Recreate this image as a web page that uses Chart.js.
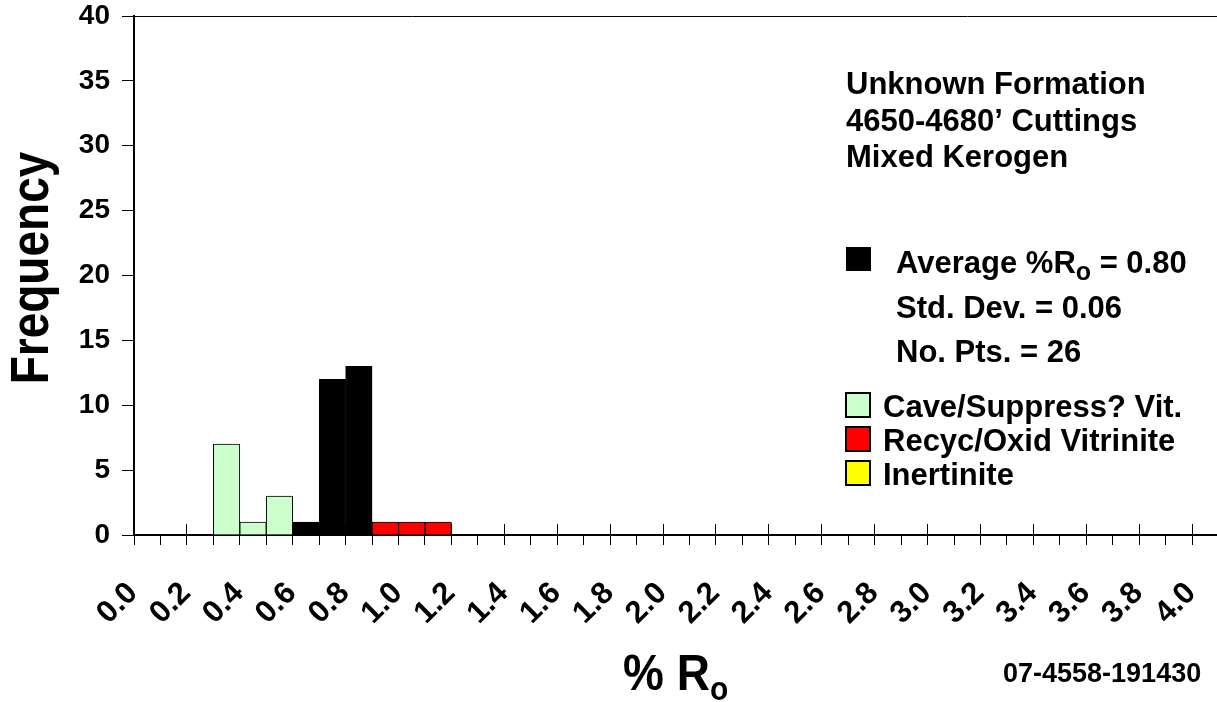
<!DOCTYPE html>
<html>
<head>
<meta charset="utf-8">
<script src="https://cdn.jsdelivr.net/npm/chart.js@4.4.1/dist/chart.umd.min.js"></script>
<style>
html,body{margin:0;padding:0;overflow:hidden;background:#fff;width:1217px;height:702px}
canvas{display:block}
</style>
</head>
<body>
<canvas id="c" width="1245" height="702"></canvas>
<script>
// ---- data (bin centres, bin width 0.1 %Ro) ----
const seriesNames = ['Vitrinite', 'Cave/Suppress? Vit.', 'Recyc/Oxid Vitrinite', 'Inertinite'];
const vitBins   = [0.65, 0.75, 0.85];
const vitFreq   = [1, 12, 13];
const caveBins  = [0.35, 0.45, 0.55];
const caveFreq  = [7, 1, 3];
const recycBins = [0.95, 1.05, 1.15];
const recycFreq = [1, 1, 1];
const inertBins = [];
const inertFreq = [];
const xTickLabels = ['0.0','0.2','0.4','0.6','0.8','1.0','1.2','1.4','1.6','1.8','2.0',
                     '2.2','2.4','2.6','2.8','3.0','3.2','3.4','3.6','3.8','4.0'];
const yTitle = 'Frequency';
const titleLines = ['Unknown Formation', '4650-4680\u2019 Cuttings', 'Mixed Kerogen'];
const avgRo = '0.80';
const stdDev = '0.06';
const nPts = '26';
const sampleId = '07-4558-191430';

const FONT = '"Liberation Sans", Arial, Helvetica, sans-serif';
Chart.defaults.font.family = FONT;
Chart.defaults.color = '#000';

function pts(xs, ys) { return xs.map((x, i) => ({ x: x, y: ys[i] })); }

const majorTickPlugin = {
  id: 'majorTicks',
  beforeDatasetsDraw(chart) {
    const sx = chart.scales.x;
    const ctx = chart.ctx;
    ctx.save();
    ctx.strokeStyle = '#000';
    ctx.lineWidth = 1;
    sx.ticks.forEach(t => {
      if (Math.round(t.value * 10) % 2 === 0) {
        const px = Math.round(sx.getPixelForValue(t.value) - 0.5) + 0.5;
        ctx.beginPath();
        ctx.moveTo(px, sx.top - 11);
        ctx.lineTo(px, sx.top);
        ctx.stroke();
      }
    });
    ctx.restore();
  }
};

const textPlugin = {
  id: 'texts',
  afterDraw(chart) {
    const ctx = chart.ctx;
    const ds = chart.data.datasets;
    ctx.save();
    ctx.fillStyle = '#000';
    ctx.textBaseline = 'alphabetic';
    ctx.textAlign = 'left';
    const f = s => 'bold ' + s + 'px ' + FONT;

    // y axis title
    ctx.save();
    ctx.translate(48, 268);
    ctx.rotate(-Math.PI / 2);
    ctx.scale(1, 1.15);
    ctx.textAlign = 'center';
    ctx.font = f(46);
    ctx.fillText(yTitle, 0, 0);
    ctx.restore();

    // sample description
    ctx.font = f(31);
    const tBase = [94, 130.5, 167];
    titleLines.forEach((s, i) => ctx.fillText(s, 846, tBase[i]));

    // statistics with black (vitrinite) key
    ctx.fillStyle = ds[0].backgroundColor;
    ctx.fillRect(846, 247, 25, 24);
    ctx.fillStyle = '#000';
    let x = 896;
    ctx.font = f(31);
    ctx.fillText('Average %R', x, 273);
    x += ctx.measureText('Average %R').width;
    ctx.font = f(25);
    ctx.fillText('o', x, 280);
    x += ctx.measureText('o').width;
    ctx.font = f(31);
    ctx.fillText(' = ' + avgRo, x, 273);
    ctx.fillText('Std. Dev. = ' + stdDev, 896, 318);
    ctx.fillText('No. Pts. = ' + nPts, 896, 362);

    // legend of other components
    const legTop = [393, 427, 461];
    const legBase = [417, 451, 485];
    for (let i = 1; i < ds.length; i++) {
      const y = legTop[i - 1];
      ctx.fillStyle = ds[i].backgroundColor;
      ctx.fillRect(846, y, 24, 24);
      ctx.strokeStyle = '#000';
      ctx.lineWidth = 2;
      ctx.strokeRect(846, y, 24, 24);
      ctx.fillStyle = '#000';
      ctx.font = f(31);
      ctx.fillText(ds[i].label, 883, legBase[i - 1]);
    }

    // sample id
    ctx.font = f(27);
    ctx.fillText(sampleId, 1003, 682);

    // x axis title % Ro
    ctx.save();
    ctx.translate(623, 690);
    ctx.scale(1, 1.08);
    ctx.font = f(46);
    ctx.fillText('% R', 0, 0);
    const w = ctx.measureText('% R').width;
    ctx.font = f(30);
    ctx.fillText('o', w, 9);
    ctx.restore();
    ctx.restore();
  }
};

new Chart(document.getElementById('c'), {
  type: 'bar',
  data: {
    datasets: [
      { label: seriesNames[0], data: pts(vitBins, vitFreq), backgroundColor: '#000000', borderColor: '#000000', borderWidth: 1 },
      { label: seriesNames[1], data: pts(caveBins, caveFreq), backgroundColor: '#CCFFCC', borderColor: '#000000', borderWidth: 1 },
      { label: seriesNames[2], data: pts(recycBins, recycFreq), backgroundColor: '#FF0000', borderColor: '#000000', borderWidth: 1 },
      { label: seriesNames[3], data: pts(inertBins, inertFreq), backgroundColor: '#FFFF00', borderColor: '#000000', borderWidth: 1 }
    ]
  },
  options: {
    responsive: false,
    animation: false,
    events: [],
    layout: { padding: { top: 16, left: 0, right: 0, bottom: 0 } },
    datasets: { bar: { grouped: false, barPercentage: 1, categoryPercentage: 1 } },
    plugins: { legend: { display: false }, tooltip: { enabled: false } },
    scales: {
      x: {
        type: 'linear',
        min: 0,
        max: 4.2,
        offset: false,
        border: { color: '#000', width: 2 },
        grid: { offset: false, drawOnChartArea: false, color: '#000', tickColor: '#000', tickLength: 10, lineWidth: 1 },
        ticks: {
          stepSize: 0.1,
          autoSkip: false,
          maxRotation: 45,
          minRotation: 45,
          padding: 30,
          labelOffset: -1,
          color: '#000',
          font: { size: 31, weight: 'bold' },
          callback: function (v) {
            const k = Math.round(v * 10);
            if (k % 2 !== 0) return '';
            return xTickLabels[k / 2] || '';
          }
        },
        afterFit: s => { s.height = 167; s.paddingLeft = 0; s.paddingRight = 0; }
      },
      y: {
        min: 0,
        max: 40,
        border: { color: '#000', width: 2 },
        grid: {
          drawOnChartArea: true,
          color: c => (c.tick && c.tick.value === 40 ? '#000' : 'rgba(0,0,0,0)'),
          tickColor: '#000',
          tickLength: 12,
          lineWidth: 1
        },
        ticks: { stepSize: 5, padding: 12, color: '#000', font: { size: 28, weight: 'bold' } },
        afterFit: s => { s.width = 134; s.paddingTop = 0; s.paddingBottom = 0; }
      }
    }
  },
  plugins: [majorTickPlugin, textPlugin]
});
</script>
</body>
</html>
